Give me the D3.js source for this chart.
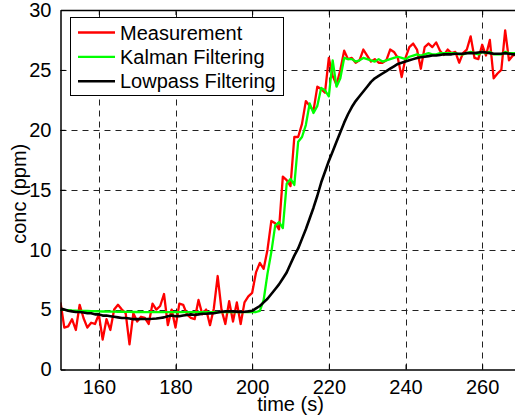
<!DOCTYPE html>
<html>
<head>
<meta charset="utf-8">
<script src="https://cdn.jsdelivr.net/npm/d3@7"></script>
<style>
  html, body { margin: 0; padding: 0; background: #fff; }
  svg { display: block; }
  text { font-family: "Liberation Sans", Arial, sans-serif; fill: #000; }
</style>
</head>
<body>
<svg id="chart" width="515" height="419"></svg>
<script>
// ---- Data (time in s, concentration in ppm) ----
const timeStart = 150;
const measurement = [
  5.6, 3.5, 3.6, 4.2, 3.3, 5.4, 4.3, 3.5, 3.9, 3.8,   // 150-159
  4.6, 2.5, 4.2, 3.3, 5.0, 5.4, 5.0, 4.7, 2.1, 4.7,   // 160-169
  4.0, 4.4, 4.3, 3.8, 5.5, 5.0, 5.3, 6.3, 3.7, 5.0,   // 170-179
  3.5, 5.5, 5.4, 4.6, 4.3, 4.2, 5.8, 4.6, 5.0, 3.7,   // 180-189
  5.1, 7.8, 5.0, 3.8, 5.7, 4.0, 5.6, 3.8, 5.6, 6.1,   // 190-199
  6.4, 8.1, 8.9, 8.4, 10.0, 12.4, 12.2, 11.7, 16.1, 15.8, // 200-209
  15.3, 19.4, 19.4, 20.5, 22.4, 22.0, 21.6, 23.6, 23.4, 23.1, // 210-219
  26.0, 24.5, 23.75, 25.0, 26.6, 25.9, 26.0, 25.6, 25.8, 26.7, // 220-229
  26.2, 25.7, 25.9, 25.6, 25.6, 25.8, 26.7, 26.5, 26.0, 24.4, // 230-239
  26.0, 26.9, 27.2, 26.7, 25.1, 26.9, 27.2, 26.9, 27.3, 26.6, // 240-249
  26.25, 26.7, 26.4, 26.5, 25.6, 26.4, 26.7, 27.8, 26.0, 25.9, // 250-259
  27.1, 26.2, 27.5, 24.3, 24.7, 25.0, 28.3, 25.8, 26.2, 26.3  // 260-269
];
const kalman = [
  5.0, 4.97, 4.95, 4.93, 4.92, 4.9, 4.89, 4.88, 4.87, 4.86,
  4.85, 4.84, 4.84, 4.83, 4.83, 4.82, 4.82, 4.81, 4.81, 4.8,
  4.8, 4.8, 4.79, 4.79, 4.79, 4.79, 4.78, 4.78, 4.78, 4.78,
  4.78, 4.78, 4.78, 4.78, 4.78, 4.78, 4.78, 4.78, 4.78, 4.78,
  4.78, 4.78, 4.78, 4.78, 4.78, 4.78, 4.78, 4.78, 4.78, 4.78,
  4.78, 4.8, 4.9, 5.8, 8.0, 9.8, 12.0, 12.3, 11.8, 15.5,
  15.9, 15.4, 19.0, 19.4, 20.4, 22.2, 21.4, 22.0, 23.5, 23.3,
  22.8, 25.8, 23.6, 24.3, 26.0, 25.9, 25.9, 25.7, 25.8, 26.0,
  25.9, 25.8, 25.7, 25.9, 25.7, 25.8, 25.9, 26.0, 26.1, 26.0,
  25.9, 26.1, 26.2, 26.3, 26.2, 26.3, 26.4, 26.3, 26.3, 26.4,
  26.4, 26.4, 26.4, 26.4, 26.3, 26.3, 26.4, 26.5, 26.4, 26.3,
  26.5, 26.4, 26.5, 26.3, 26.3, 26.3, 26.5, 26.4, 26.4, 26.4
];
const lowpass = [
  5.1, 5.0, 4.9, 4.85, 4.8, 4.8, 4.75, 4.7, 4.7, 4.6,
  4.6, 4.5, 4.5, 4.45, 4.4, 4.35, 4.3, 4.3, 4.25, 4.2,
  4.2, 4.22, 4.22, 4.22, 4.23, 4.25, 4.3, 4.35, 4.45, 4.5,
  4.45, 4.45, 4.5, 4.55, 4.6, 4.55, 4.6, 4.65, 4.65, 4.68,
  4.7, 4.75, 4.82, 4.85, 4.85, 4.85, 4.83, 4.8, 4.82, 4.85,
  4.9, 5.1, 5.3, 5.6, 5.9, 6.3, 6.7, 7.1, 7.6, 8.1,
  8.8, 9.5, 10.1, 10.9, 11.7, 12.6, 13.5, 14.5, 15.6, 16.5,
  17.4, 18.2, 19.0, 19.8, 20.6, 21.3, 21.9, 22.4, 22.8, 23.2,
  23.6, 24.0, 24.3, 24.5, 24.7, 24.9, 25.1, 25.3, 25.5, 25.6,
  25.7, 25.8, 25.9, 26.0, 26.05, 26.1, 26.15, 26.2, 26.2, 26.25,
  26.3, 26.3, 26.3, 26.35, 26.35, 26.35, 26.4, 26.4, 26.4, 26.45,
  26.5, 26.45, 26.4, 26.35, 26.35, 26.35, 26.4, 26.35, 26.3, 26.3
];
const xTicks = [160, 180, 200, 220, 240, 260];
const yTicks = [0, 5, 10, 15, 20, 25, 30];
const seriesNames = ["Measurement", "Kalman Filtering", "Lowpass Filtering"];
const seriesColors = ["#ff0000", "#00ff00", "#000000"];

(function () {
// ---- Layout (axes extend past the right edge of the picture) ----
const pl = 60.5, pr = 520.5, pt = 10, pb = 369.5;
const svg = d3.select("#chart");
const x = d3.scaleLinear().domain([150, 270]).range([pl, pr]);
const y = d3.scaleLinear().domain([0, 30]).range([pb, pt]);

svg.append("defs").append("clipPath").attr("id", "clip")
  .append("rect").attr("x", pl).attr("y", pt)
  .attr("width", pr - pl).attr("height", pb - pt);

// Grid
const grid = svg.append("g").attr("stroke", "#222").attr("stroke-width", 1)
  .attr("stroke-dasharray", "6,5").attr("fill", "none");
xTicks.forEach(t => grid.append("line")
  .attr("x1", Math.round(x(t)) + 0.5).attr("x2", Math.round(x(t)) + 0.5)
  .attr("y1", pb).attr("y2", pt));
yTicks.filter(v => v > 0 && v < 30).forEach(v => grid.append("line")
  .attr("y1", Math.round(y(v)) + 0.5).attr("y2", Math.round(y(v)) + 0.5)
  .attr("x1", pl).attr("x2", pr));

// Lines
const toPts = arr => arr.map((v, i) => [timeStart + i, v]);
const line = d3.line().x(d => x(d[0])).y(d => y(d[1]));
const plot = svg.append("g").attr("clip-path", "url(#clip)");
[measurement, kalman, lowpass].forEach((arr, i) => {
  plot.append("path").datum(toPts(arr))
    .attr("fill", "none").attr("stroke", seriesColors[i])
    .attr("stroke-width", i === 2 ? 2.6 : 2.3)
    .attr("stroke-linejoin", "round")
    .attr("d", line);
});

// Axes frame with inward ticks
const axisB = d3.axisBottom(x).tickValues(xTicks).tickSizeInner(-5).tickSizeOuter(0).tickPadding(10);
const axisL = d3.axisLeft(y).tickValues(yTicks).tickSizeInner(-5).tickSizeOuter(0).tickPadding(9);
const axisT = d3.axisTop(x).tickValues(xTicks).tickSizeInner(-5).tickSizeOuter(0).tickFormat("");

function styleAxis(g) {
  g.selectAll("path.domain").attr("stroke", "#000").attr("stroke-width", 1.5);
  g.selectAll(".tick line").attr("stroke", "#000").attr("stroke-width", 1);
  g.selectAll(".tick text").attr("font-size", 20)
    .attr("font-family", "'Liberation Sans', Arial, sans-serif").attr("fill", "#000");
}
svg.append("g").attr("transform", `translate(0,${pb})`).call(axisB).call(styleAxis)
  .selectAll(".tick text").attr("dy", "0.71em");
svg.append("g").attr("transform", `translate(${pl},0)`).call(axisL).call(styleAxis);
svg.append("g").attr("transform", `translate(0,${pt})`).call(axisT).call(styleAxis);

// Axis labels
svg.append("text").attr("x", (pl + pr) / 2).attr("y", 411)
  .attr("text-anchor", "middle").attr("font-size", 20).text("time (s)");
svg.append("text").attr("transform", `translate(26,${(pt + pb) / 2 + 4}) rotate(-90)`)
  .attr("text-anchor", "middle").attr("font-size", 20).text("conc (ppm)");

// Legend
const lg = svg.append("g");
lg.append("rect").attr("x", 70.5).attr("y", 17.5).attr("width", 213).attr("height", 78)
  .attr("fill", "#fff").attr("stroke", "#000").attr("stroke-width", 1);
seriesNames.forEach((name, i) => {
  const yy = 32.5 + i * 24.4;
  lg.append("line").attr("x1", 78).attr("x2", 115).attr("y1", yy).attr("y2", yy)
    .attr("stroke", seriesColors[i]).attr("stroke-width", i === 2 ? 2.6 : 2.3);
  lg.append("text").attr("x", 120).attr("y", yy + 7).attr("font-size", 20).text(name);
});
})();
</script>
</body>
</html>
